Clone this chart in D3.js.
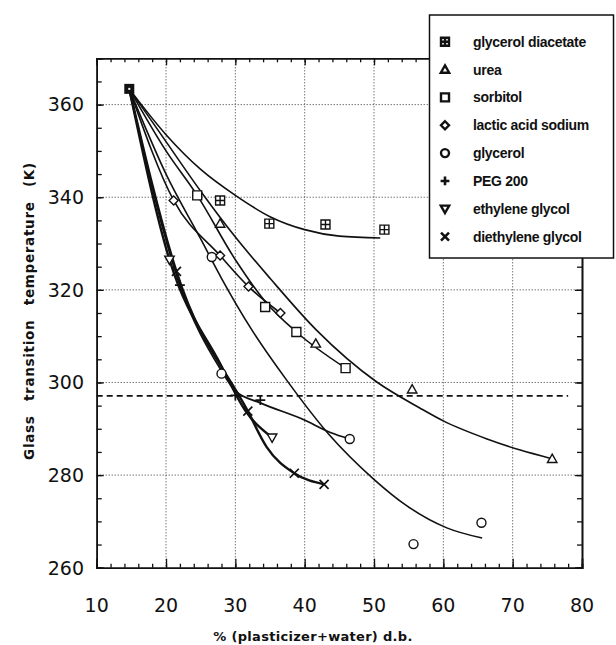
<!DOCTYPE html>
<html><head><meta charset="utf-8">
<script src="https://cdn.jsdelivr.net/npm/d3@7"></script>
<style>
html,body{margin:0;padding:0;background:#fff;}
svg{display:block;}
</style></head>
<body><svg id="chart" width="616" height="645"></svg>
<script>
// ---------- DATA ----------
const categories = ["glycerol diacetate","urea","sorbitol","lactic acid sodium","glycerol","PEG 200","ethylene glycol","diethylene glycol"];
const symbols = ["squarecross","triangle","square","diamond","circle","plus","triangledown","cross"];
const xTicks = [10,20,30,40,50,60,70,80];
const yTicks = [260,280,300,320,340,360];
const startPoint = [14.7, 363.4];
// measured points per series (x = % d.b., y = Tg K)
const gdX = [27.8, 34.9, 43.0, 51.5];
const gdY = [339.3, 334.3, 334.1, 333.0];
const ureaX = [27.8, 41.6, 55.5, 75.7];
const ureaY = [334.3, 308.4, 298.5, 283.5];
const sorbX = [24.5, 34.3, 38.8, 45.9];
const sorbY = [340.4, 316.3, 310.9, 303.1];
const lactX = [21.1, 27.8, 31.9, 36.5];
const lactY = [339.3, 327.4, 320.7, 315.0];
const glyX = [26.6, 28.0, 46.5, 55.7, 65.5];
const glyY = [327.1, 301.9, 287.8, 265.1, 269.7];
const pegX = [22.0, 30.0, 33.6];
const pegY = [321.0, 297.2, 296.2];
const egX = [20.5, 35.3];
const egY = [326.5, 288.1];
const degX = [21.5, 31.8, 38.5, 42.8];
const degY = [324.0, 293.8, 280.4, 278.0];
// fitted curves
const gdFitX = [14.7, 20, 25, 30, 35, 40, 45, 50.9];
const gdFitY = [363.4, 353.5, 346, 340.4, 335.8, 333.0, 331.6, 331.2];
const ureaFitX = [14.7, 20, 25, 30, 35, 41.7, 50.4, 56.6, 60, 66.3, 71.1, 75.5];
const ureaFitY = [363.4, 352, 341.3, 331.4, 322.5, 311.3, 300.1, 294.5, 291.7, 287.8, 285.4, 283.6];
const sorbFitX = [14.7, 20, 24.5, 30, 34.3, 38.8, 45.9];
const sorbFitY = [363.4, 350, 340.4, 326.5, 317.5, 310.9, 303.1];
const lactFitX = [14.7, 21.1, 27.8, 31.9, 36.5];
const lactFitY = [363.4, 339.3, 327.4, 320.7, 315.0];
const glyFitX = [14.7, 20, 25, 28, 32.4, 37.4, 43.6, 49.9, 54.7, 60.5, 65.6];
const glyFitY = [363.4, 345, 331, 322.5, 311.3, 300.5, 288.6, 279.2, 273.4, 268.6, 266.4];
const pegFitX = [14.7, 22.0, 27.8, 30.0, 33.6, 39.8, 43.7, 46.5];
const pegFitY = [363.4, 321.0, 303.0, 298.2, 295.6, 292.0, 289.2, 287.8];
const egFitX = [14.7, 20.5, 27.8, 31.4, 35.3];
const egFitY = [363.4, 326.5, 304.1, 294.0, 288.1];
const degFitX = [14.7, 21.5, 31.8, 34.5, 38.5, 42.8];
const degFitY = [363.4, 324.0, 293.8, 286.1, 280.4, 278.0];
const refLineY = 297.1;
const refLineX = [10, 78];

// ---------- LAYOUT ----------
const svg = d3.select("#chart");
const x = d3.scaleLinear().domain([10, 80]).range([96.7, 582]);
const y = d3.scaleLinear().domain([260, 370]).range([567.7, 58.3]);
const L = x(10), R = x(80), T = y(370), B = y(260);

const seriesPts = [[gdX,gdY],[ureaX,ureaY],[sorbX,sorbY],[lactX,lactY],[glyX,glyY],[pegX,pegY],[egX,egY],[degX,degY]];
const seriesFit = [[gdFitX,gdFitY],[ureaFitX,ureaFitY],[sorbFitX,sorbFitY],[lactFitX,lactFitY],[glyFitX,glyFitY],[pegFitX,pegFitY],[egFitX,egFitY],[degFitX,degFitY]];
const fitWidth = [1.6,1.6,1.6,1.6,1.6,1.8,2.4,2.4];

// gridlines
const grid = svg.append("g");
grid.selectAll("line.vx").data(xTicks.filter(t=>t>10&&t<80)).enter().append("line")
  .attr("x1",d=>x(d)).attr("x2",d=>x(d)).attr("y1",T).attr("y2",B)
  .attr("stroke","#222").attr("stroke-width",0.9).attr("stroke-dasharray","1,2");
grid.selectAll("line.hy").data(yTicks.filter(t=>t>260)).enter().append("line")
  .attr("y1",d=>y(d)).attr("y2",d=>y(d)).attr("x1",L).attr("x2",R)
  .attr("stroke","#222").attr("stroke-width",0.9).attr("stroke-dasharray","1,2");

// axes
const xMinor = d3.range(10, 80.01, 2);
const yMinor = d3.range(260, 370.01, 5);
const axB = d3.axisBottom(x).tickValues(xMinor).tickSize(-4).tickFormat("");
const axT = d3.axisTop(x).tickValues(xMinor).tickSize(-4).tickFormat("");
const axL = d3.axisLeft(y).tickValues(yMinor).tickSize(-5).tickFormat("");
const axR = d3.axisRight(y).tickValues(yMinor).tickSize(-5).tickFormat("");
const axBM = d3.axisBottom(x).tickValues(xTicks).tickSize(-9).tickFormat("");
const axLM = d3.axisLeft(y).tickValues(yTicks).tickSize(-7).tickFormat("");
const axRM = d3.axisRight(y).tickValues(yTicks).tickSize(-7).tickFormat("");
const axTM = d3.axisTop(x).tickValues(xTicks).tickSize(-7).tickFormat("");
function styleAx(g){ g.select(".domain").attr("stroke","#111").attr("stroke-width",1.6);
  g.selectAll(".tick line").attr("stroke","#111").attr("stroke-width",1.3); }
svg.append("g").attr("transform",`translate(0,${B})`).call(axB).call(styleAx);
svg.append("g").attr("transform",`translate(0,${B})`).call(axBM).call(styleAx);
svg.append("g").attr("transform",`translate(0,${T})`).call(axT).call(styleAx);
svg.append("g").attr("transform",`translate(0,${T})`).call(axTM).call(styleAx);
svg.append("g").attr("transform",`translate(${L},0)`).call(axL).call(styleAx);
svg.append("g").attr("transform",`translate(${L},0)`).call(axLM).call(styleAx);
svg.append("g").attr("transform",`translate(${R},0)`).call(axR).call(styleAx);
svg.append("g").attr("transform",`translate(${R},0)`).call(axRM).call(styleAx);

// tick labels
svg.append("g").selectAll("text").data(xTicks).enter().append("text")
  .attr("x",d=>x(d)).attr("y",612).attr("text-anchor","middle")
  .style("font-family","DejaVu Sans").style("font-size","19px").attr("fill","#111").text(d=>d);
svg.append("g").selectAll("text").data(yTicks).enter().append("text")
  .attr("x",84).attr("y",d=>y(d)).attr("dy","0.36em").attr("text-anchor","end")
  .style("font-family","DejaVu Sans").style("font-size","19px").attr("fill","#111").text(d=>d);
// axis titles
svg.append("text").attr("x",313).attr("y",641).attr("text-anchor","middle")
  .style("font-family","DejaVu Sans").style("font-weight","bold").style("font-size","13px")
  .style("letter-spacing","0.3px").attr("fill","#111").text("% (plasticizer+water) d.b.");
svg.append("text").attr("transform","translate(34,311) rotate(-90)").attr("text-anchor","middle")
  .style("font-family","DejaVu Sans").style("font-weight","bold").style("font-size","13.5px")
  .style("letter-spacing","0.7px").style("word-spacing","9px").attr("fill","#111").text("Glass transition temperature (K)");

// reference dashed line
svg.append("line").attr("x1",x(refLineX[0])).attr("x2",x(refLineX[1]))
  .attr("y1",y(refLineY)).attr("y2",y(refLineY))
  .attr("stroke","#111").attr("stroke-width",1.8).attr("stroke-dasharray","6,4");

// fitted curves
const line = d3.line().x(d=>x(d[0])).y(d=>y(d[1])).curve(d3.curveMonotoneX);
seriesFit.forEach((f,i)=>{
  const pts = f[0].map((v,k)=>[v,f[1][k]]);
  svg.append("path").attr("d",line(pts)).attr("fill","none")
    .attr("stroke","#111").attr("stroke-width",fitWidth[i]);
});

// symbols
function sym(g, type, cx, cy, s, legend){
  const h = s/2;
  const st = {fill: legend ? "none":"#fff", stroke:"#111", "stroke-width": legend?2.4:1.4};
  let el;
  switch(type){
    case "squarecross":
      el = g.append("path").attr("d",`M${cx-h},${cy-h}h${s}v${s}h${-s}Z M${cx},${cy-h}V${cy+h} M${cx-h},${cy}H${cx+h}`); break;
    case "triangle":
      el = g.append("path").attr("d",`M${cx},${cy-h*1.05}L${cx+h*1.05},${cy+h*0.8}L${cx-h*1.05},${cy+h*0.8}Z`); break;
    case "triangledown":
      el = g.append("path").attr("d",`M${cx},${cy+h*1.05}L${cx+h*1.05},${cy-h*0.8}L${cx-h*1.05},${cy-h*0.8}Z`); break;
    case "square":
      el = g.append("path").attr("d",`M${cx-h},${cy-h}h${s}v${s}h${-s}Z`); break;
    case "diamond":
      el = g.append("path").attr("d",`M${cx},${cy-h}L${cx+h},${cy}L${cx},${cy+h}L${cx-h},${cy}Z`); break;
    case "circle":
      el = g.append("circle").attr("cx",cx).attr("cy",cy).attr("r",h); break;
    case "plus":
      el = g.append("path").attr("d",`M${cx},${cy-h*1.1}V${cy+h*1.1}M${cx-h*1.1},${cy}H${cx+h*1.1}`); break;
    case "cross":
      el = g.append("path").attr("d",`M${cx-h},${cy-h}L${cx+h},${cy+h}M${cx+h},${cy-h}L${cx-h},${cy+h}`); break;
  }
  Object.entries(st).forEach(([k,v])=>el.attr(k,v));
  if(type==="plus"||type==="cross") el.attr("fill","none").attr("stroke-width", legend?2.6:1.7);
  return el;
}
const mg = svg.append("g");
seriesPts.forEach((p,i)=>{
  p[0].forEach((xv,k)=> sym(mg, symbols[i], x(xv), y(p[1][k]), 9, false));
});
// common start point (all markers overlap -> filled)
mg.append("rect").attr("x",x(startPoint[0])-5).attr("y",y(startPoint[1])-5).attr("width",10).attr("height",10)
  .attr("fill","#111");
mg.append("rect").attr("x",x(startPoint[0])-1).attr("y",y(startPoint[1])-1).attr("width",2).attr("height",2)
  .attr("fill","#fff");

// legend
const lg = svg.append("g");
lg.append("rect").attr("x",429.5).attr("y",15).attr("width",184).attr("height",243)
  .attr("fill","#fff").attr("stroke","#111").attr("stroke-width",1.5);
categories.forEach((c,i)=>{
  const cy = 41.7 + i*27.85;
  sym(lg, symbols[i], 445, cy, 8, true);
  lg.append("text").attr("x",473).attr("y",cy).attr("dy","0.36em")
    .style("font-family","Liberation Sans").style("font-weight","bold").style("font-size","14px")
    .style("letter-spacing","-0.3px").attr("fill","#111").text(c);
});
</script></body></html>
